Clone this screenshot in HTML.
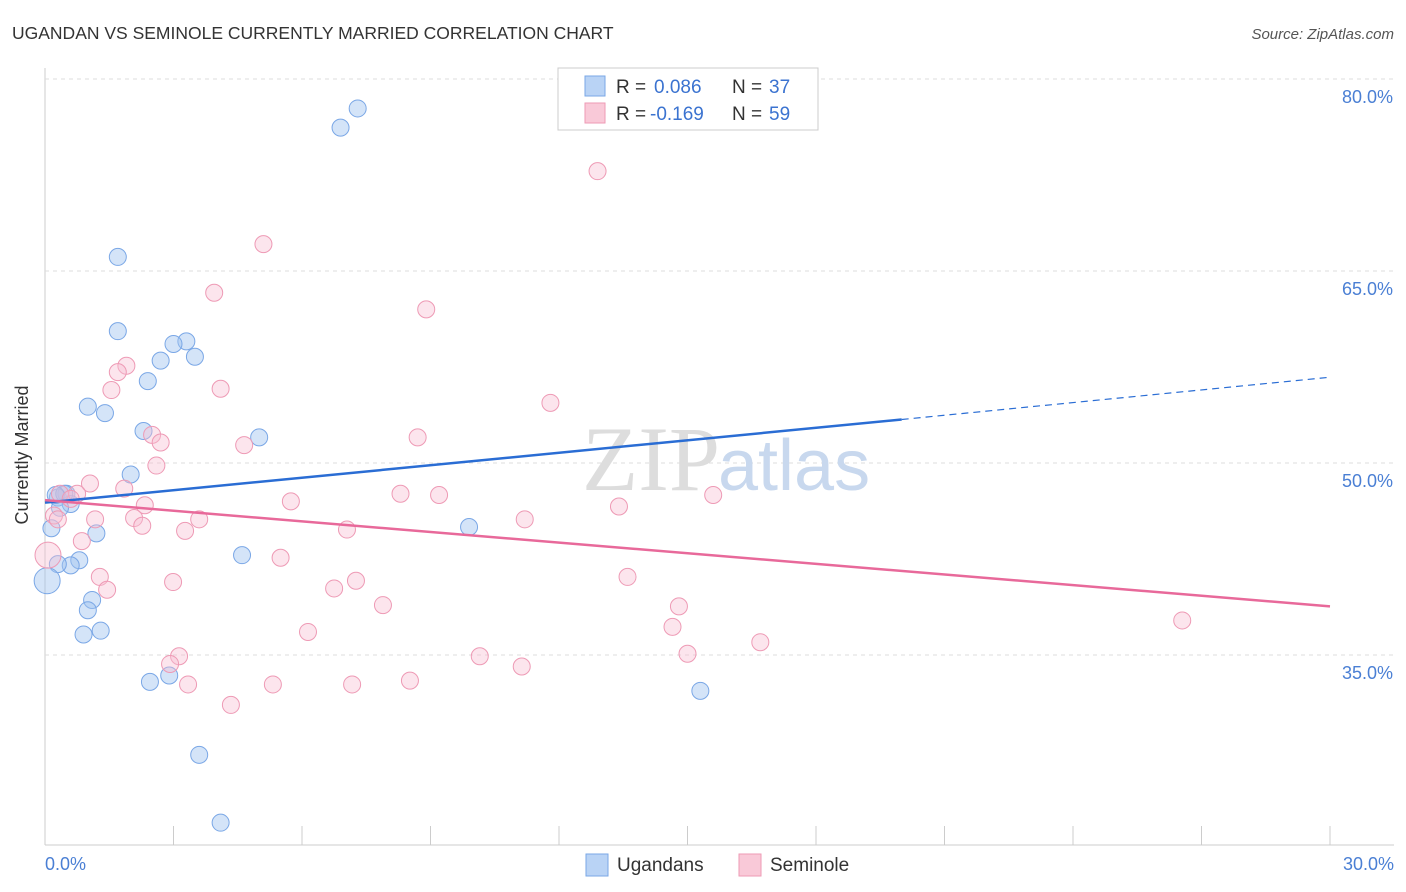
<!DOCTYPE html>
<html><head><meta charset="utf-8"><style>
body{margin:0;background:#fff;font-family:"Liberation Sans",sans-serif}
svg{display:block}
</style></head><body>
<svg width="1406" height="892">
<text x="12" y="39" font-size="17.5" fill="#333">UGANDAN VS SEMINOLE CURRENTLY MARRIED CORRELATION CHART</text>
<text x="1394" y="39" font-size="15" fill="#555" font-style="italic" text-anchor="end">Source: ZipAtlas.com</text>
<g id="grid"></g>
<text x="720" y="490" font-size="92" font-family="Liberation Serif,serif" fill="#ddd" text-anchor="end">ZIP</text>
<text x="718" y="490" font-size="72" fill="#c8d8ee">atlas</text>
<g id="pts"></g>
<g id="lines"></g>
<text x="28" y="455" font-size="18" fill="#333" text-anchor="middle" transform="rotate(-90 28 455)">Currently Married</text>
<text x="45" y="870" font-size="18" fill="#4a7fd4">0.0%</text>
<text x="1394" y="870" font-size="18" fill="#4a7fd4" text-anchor="end">30.0%</text>
<g font-size="19">
<rect x="558" y="68" width="260" height="62" fill="#fff" stroke="#ccc"/>
<rect x="585" y="76" width="20" height="20" fill="#b9d3f5" stroke="#7aa7e6"/>
<text x="616" y="93" fill="#333">R =</text><text x="654" y="93" fill="#3b73d0">0.086</text>
<text x="732" y="93" fill="#333">N =</text><text x="769" y="93" fill="#3b73d0">37</text>
<rect x="585" y="103" width="20" height="20" fill="#f9c9d8" stroke="#ee9ab5"/>
<text x="616" y="120" fill="#333">R =</text><text x="650" y="120" fill="#3b73d0">-0.169</text>
<text x="732" y="120" fill="#333">N =</text><text x="769" y="120" fill="#3b73d0">59</text>
</g>
<g>
<rect x="586" y="854" width="22" height="22" fill="#b9d3f5" stroke="#7aa7e6"/>
<text x="617" y="871" font-size="19" fill="#333">Ugandans</text>
<rect x="739" y="854" width="22" height="22" fill="#f9c9d8" stroke="#ee9ab5"/>
<text x="770" y="871" font-size="19" fill="#333">Seminole</text>
</g>
</svg>
<script>
const yTicks=[35,50,65,80];
const xTicks=[0,3,6,9,12,15,18,21,24,27,30];
const ugX=[7.3,6.9,1.7,1.7,3.3,3.0,2.7,3.5,2.4,1.0,1.4,2.3,5.0,2.0,0.5,0.3,0.6,0.35,0.15,1.2,9.9,4.6,0.8,0.6,0.3,0.05,1.1,1.0,1.3,0.9,2.45,2.9,15.3,3.6,4.1,0.45,0.25];
const ugY=[77.7,76.2,66.1,60.3,59.5,59.3,58.0,58.3,56.4,54.4,53.9,52.5,52.0,49.1,47.6,47.3,46.8,46.5,44.9,44.5,45.0,42.8,42.4,42.0,42.1,40.8,39.3,38.5,36.9,36.6,32.9,33.4,32.2,27.2,21.9,47.6,47.5];
const smX=[12.9,5.1,3.95,8.9,1.9,1.7,1.55,4.1,11.8,2.5,2.7,4.65,8.7,2.6,1.05,1.85,0.75,0.35,8.3,9.2,5.74,2.33,13.4,15.6,0.6,0.21,1.17,2.08,2.27,3.6,3.27,7.05,11.2,0.86,0.07,5.5,1.28,1.45,2.99,13.6,7.26,6.75,7.89,14.8,14.65,6.14,16.7,26.55,3.13,2.92,10.15,11.13,15.0,3.34,5.32,7.17,8.52,4.34,0.3];
const smY=[72.8,67.1,63.3,62.0,57.6,57.1,55.7,55.8,54.7,52.2,51.6,51.4,52.0,49.8,48.4,48.0,47.6,47.6,47.6,47.5,47.0,46.7,46.6,47.5,47.2,45.9,45.6,45.7,45.1,45.6,44.7,44.8,45.6,43.9,42.8,42.6,41.1,40.1,40.7,41.1,40.8,40.2,38.9,38.8,37.2,36.8,36.0,37.7,34.9,34.3,34.9,34.1,35.1,32.7,32.7,32.7,33.0,31.1,45.6];
const big={u:25,s:34};
const X=v=>45+v/30*1285, Y=v=>463-(v-50)*12.8;
const NS="http://www.w3.org/2000/svg";
function mk(t,a,p){const e=document.createElementNS(NS,t);for(const k in a)e.setAttribute(k,a[k]);p.appendChild(e);return e;}
const g=document.getElementById('grid');
mk('line',{x1:45,y1:68,x2:45,y2:845,stroke:'#ccc'},g);
mk('line',{x1:45,y1:845,x2:1394,y2:845,stroke:'#ccc'},g);
yTicks.forEach(v=>{const l=mk('line',{x1:45,y1:Y(v),x2:1394,y2:Y(v),stroke:'#ddd','stroke-dasharray':'4,4'},g);


const t=mk('text',{x:1393,y:Y(v)+24,'font-size':18,fill:'#4a7fd4','text-anchor':'end'},g);t.textContent=v.toFixed(1)+'%';

});
xTicks.forEach(v=>{const l=mk('line',{x1:X(v),y1:826,x2:X(v),y2:845,stroke:'#ccc'},g);

});
const p=document.getElementById('pts');
ugX.forEach((x,i)=>{const c=mk('circle',{cx:X(x),cy:Y(ugY[i]),r:i==big.u?13:8.5,fill:'rgba(160,196,240,0.45)',stroke:'#7aa7e6','stroke-width':1},p);

});
smX.forEach((x,i)=>{const c=mk('circle',{cx:X(x),cy:Y(smY[i]),r:i==big.s?13:8.5,fill:'rgba(248,190,210,0.4)',stroke:'#ee9ab5','stroke-width':1},p);

});
const L=document.getElementById('lines');
const bl=mk('line',{x1:X(0),y1:Y(46.9),x2:X(20),y2:Y(53.4),stroke:'#2a6dd4','stroke-width':2.5},L);


const bd=mk('line',{x1:X(20),y1:Y(53.4),x2:X(30),y2:Y(56.7),stroke:'#2a6dd4','stroke-width':1.2,'stroke-dasharray':'7,5'},L);


const pl=mk('line',{x1:X(0),y1:Y(47.1),x2:X(30),y2:Y(38.8),stroke:'#e8699a','stroke-width':2.5},L);


</script>
</body></html>
